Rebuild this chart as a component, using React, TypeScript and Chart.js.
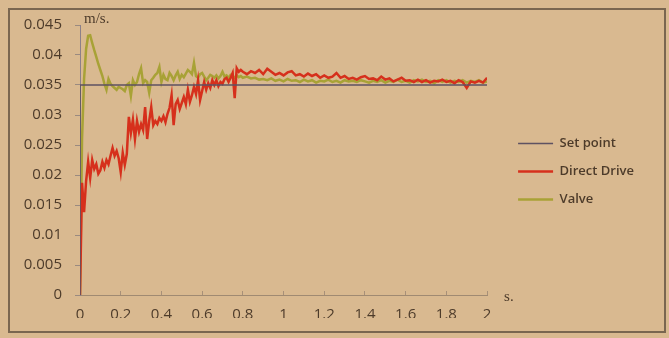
import React, { useEffect, useRef } from "react";
import { Chart, registerables } from "chart.js";

Chart.register(...registerables);

const time: number[] = [
  0, 0.01, 0.02, 0.03, 0.04, 0.05, 0.06, 0.07, 0.08, 0.09,
  0.1, 0.11, 0.12, 0.13, 0.14, 0.15, 0.16, 0.17, 0.18, 0.19,
  0.2, 0.21, 0.22, 0.23, 0.24, 0.25, 0.26, 0.27, 0.28, 0.29,
  0.3, 0.31, 0.32, 0.33, 0.34, 0.35, 0.36, 0.37, 0.38, 0.39,
  0.4, 0.41, 0.42, 0.43, 0.44, 0.45, 0.46, 0.47, 0.48, 0.49,
  0.5, 0.51, 0.52, 0.53, 0.54, 0.55, 0.56, 0.57, 0.58, 0.59,
  0.6, 0.61, 0.62, 0.63, 0.64, 0.65, 0.66, 0.67, 0.68, 0.69,
  0.7, 0.71, 0.72, 0.73, 0.74, 0.75, 0.76, 0.77, 0.78, 0.79, 0.8,
  0.82, 0.84, 0.86, 0.88, 0.9, 0.92, 0.94, 0.96, 0.98, 1.0,
  1.02, 1.04, 1.06, 1.08, 1.1, 1.12, 1.14, 1.16, 1.18, 1.2,
  1.22, 1.24, 1.26, 1.28, 1.3, 1.32, 1.34, 1.36, 1.38, 1.4,
  1.42, 1.44, 1.46, 1.48, 1.5, 1.52, 1.54, 1.56, 1.58, 1.6,
  1.62, 1.64, 1.66, 1.68, 1.7, 1.72, 1.74, 1.76, 1.78, 1.8,
  1.82, 1.84, 1.86, 1.88, 1.9, 1.92, 1.94, 1.96, 1.98, 2.0,
];

const directDrive: number[] = [
  0, 0.0187, 0.0138, 0.019, 0.0222, 0.0195, 0.0225, 0.021, 0.0218, 0.0202,
  0.0208, 0.0222, 0.0212, 0.0225, 0.0218, 0.0232, 0.0245, 0.0232, 0.024, 0.0228,
  0.0205, 0.0237, 0.0217, 0.0235, 0.0297, 0.027, 0.0292, 0.026, 0.029, 0.0272,
  0.0285, 0.0275, 0.0313, 0.026, 0.029, 0.0313, 0.0283, 0.029, 0.0285, 0.0295,
  0.029, 0.0298, 0.0288, 0.0302, 0.0312, 0.0333, 0.0283, 0.0318, 0.0325, 0.031,
  0.032, 0.033, 0.0318, 0.0342, 0.0322, 0.0333, 0.0347, 0.0335, 0.0358, 0.0325,
  0.034, 0.0355, 0.0342, 0.0353, 0.0345, 0.0358, 0.035, 0.0358, 0.0348, 0.0355,
  0.0352, 0.036, 0.0362, 0.0355, 0.0362, 0.037, 0.0328, 0.0378, 0.0372, 0.0375, 0.0372,
  0.0368, 0.0373, 0.037, 0.0375, 0.0368, 0.0377, 0.0372, 0.0367, 0.037, 0.0366,
  0.0371, 0.0373, 0.0366, 0.0368, 0.0364, 0.0369, 0.0365, 0.0368, 0.0362, 0.0366,
  0.0362, 0.0364, 0.037, 0.0362, 0.0365, 0.036, 0.0362, 0.0359, 0.0363, 0.0365,
  0.036, 0.0361, 0.0358, 0.0364, 0.0359, 0.0361, 0.0356, 0.0359, 0.0362, 0.0357,
  0.0358, 0.0355, 0.0359, 0.0355, 0.0358, 0.0354, 0.0357, 0.0356, 0.0359, 0.0355,
  0.0357, 0.0353, 0.0358, 0.0355, 0.0345, 0.0356, 0.0354, 0.0357, 0.0354, 0.0362,
];

const valve: number[] = [
  0, 0.026, 0.036, 0.041, 0.0432, 0.0433, 0.042, 0.0408, 0.0397, 0.0385,
  0.0375, 0.0365, 0.0352, 0.0342, 0.036, 0.0352, 0.0348, 0.0345, 0.0342, 0.0347,
  0.0345, 0.0343, 0.034, 0.035, 0.0353, 0.0332, 0.0358, 0.035, 0.0355, 0.0368,
  0.0378, 0.0353, 0.0358, 0.0355, 0.0337, 0.0358, 0.0362, 0.0367, 0.037, 0.038,
  0.0355, 0.0367, 0.036, 0.0358, 0.037, 0.0365, 0.0358, 0.0366, 0.0372, 0.036,
  0.0367, 0.0363, 0.0369, 0.0375, 0.0372, 0.0368, 0.0387, 0.0365, 0.0362, 0.0368,
  0.037, 0.0364, 0.0358, 0.0362, 0.0367, 0.0365, 0.0362, 0.0366, 0.0361, 0.0365,
  0.0372, 0.0364, 0.0366, 0.0362, 0.0367, 0.0365, 0.0362, 0.0366, 0.0363, 0.0365, 0.0362,
  0.0364, 0.0361, 0.0362, 0.0359, 0.036, 0.0358, 0.0361, 0.0357, 0.0359, 0.0356,
  0.036, 0.0357, 0.0358, 0.0355, 0.0359, 0.0356, 0.0358, 0.0354, 0.0357, 0.0356,
  0.0359, 0.0355, 0.0357, 0.0354, 0.0358, 0.0356, 0.0357, 0.0355, 0.0358, 0.0356,
  0.0354, 0.0357, 0.0355, 0.0358, 0.0354, 0.0357, 0.0355, 0.0359, 0.0355, 0.0357,
  0.0354, 0.0358, 0.0356, 0.0359, 0.0355, 0.0357, 0.0353, 0.0358, 0.0355, 0.0358,
  0.0354, 0.0357, 0.0355, 0.0358, 0.0354, 0.0357, 0.0355, 0.0358, 0.0354, 0.0356,
];

const setPointTime: number[] = [0, 0, 2];
const setPoint: number[] = [0, 0.035, 0.035];

const seriesNames: string[] = ["Set point", "Direct Drive", "Valve"];
const xTickLabels: string[] = ["0", "0.2", "0.4", "0.6", "0.8", "1", "1.2", "1.4", "1.6", "1.8", "2"];
const yTickLabels: string[] = ["0", "0.005", "0.01", "0.015", "0.02", "0.025", "0.03", "0.035", "0.04", "0.045"];
const yUnit = "m/s.";
const xUnit = "s.";

const BG = "#d9b990";
const TEXT = "#4d3b2a";

const pairs = (xs: number[], ys: number[]) => ys.map((y, i) => ({ x: xs[i], y }));

export default function App() {
  const ref = useRef<HTMLCanvasElement | null>(null);

  useEffect(() => {
    if (!ref.current) return;
    const decor = {
      id: "decor",
      beforeDraw(chart: any) {
        const ctx = chart.ctx;
        ctx.save();
        ctx.fillStyle = BG;
        ctx.fillRect(0, 0, chart.width, chart.height);
        ctx.restore();
      },
      afterDraw(chart: any) {
        const ctx = chart.ctx;
        const { left, top, right, bottom } = chart.chartArea;
        ctx.save();
        ctx.strokeStyle = "#7a6650";
        ctx.lineWidth = 2;
        ctx.strokeRect(9, 9, 656, 323);
        ctx.fillStyle = TEXT;
        ctx.font = "15px 'Liberation Serif', serif";
        ctx.textBaseline = "middle";
        ctx.textAlign = "left";
        ctx.fillText(yUnit, left + 4, top - 6);
        ctx.fillText(xUnit, right + 17, bottom + 2);
        ctx.restore();
      },
    };

    const chart = new Chart(ref.current, {
      type: "line",
      data: {
        datasets: [
          {
            label: seriesNames[0],
            data: pairs(setPointTime, setPoint),
            borderColor: "#5e5262",
            backgroundColor: "#5e5262",
            borderWidth: 1.6,
            pointRadius: 0,
            tension: 0,
          },
          {
            label: seriesNames[1],
            data: pairs(time, directDrive),
            borderColor: "#d6301c",
            backgroundColor: "#d6301c",
            borderWidth: 2.5,
            pointRadius: 0,
            tension: 0,
          },
          {
            label: seriesNames[2],
            data: pairs(time, valve),
            borderColor: "#a8a236",
            backgroundColor: "#a8a236",
            borderWidth: 2.5,
            pointRadius: 0,
            tension: 0,
          },
        ],
      },
      options: {
        animation: false,
        responsive: false,
        layout: { padding: { left: 0, top: 25, right: 25, bottom: 20 } },
        plugins: {
          tooltip: { enabled: false },
          legend: {
            position: "right",
            align: "center",
            maxWidth: 220,
            labels: {
              usePointStyle: true,
              pointStyle: "line",
              pointStyleWidth: 35,
              padding: 15,
              color: TEXT,
              font: { family: "'Open Sans', sans-serif", size: 13, weight: "600" },
            },
          },
        },
        scales: {
          x: {
            type: "linear",
            min: 0,
            max: 2,
            afterFit(s: any) {
              s.height = 23;
            },
            ticks: {
              stepSize: 0.2,
              color: TEXT,
              padding: 15,
              maxRotation: 0,
              font: { family: "'Open Sans', sans-serif", size: 15 },
              callback: (_v: any, i: number) => xTickLabels[i],
            },
            grid: { drawOnChartArea: false, tickLength: -4, color: "#a89078" },
            border: { color: "#a08a72", width: 1 },
          },
          y: {
            type: "linear",
            min: 0,
            max: 0.045,
            afterFit(s: any) {
              s.width = 80;
            },
            ticks: {
              stepSize: 0.005,
              color: TEXT,
              padding: 13,
              font: { family: "'Open Sans', sans-serif", size: 15 },
              callback: (_v: any, i: number) => yTickLabels[i],
            },
            grid: { drawOnChartArea: false, tickLength: 5, color: "#9a8a80" },
            border: { color: "#8c8088", width: 1 },
          },
          gap: {
            type: "linear",
            position: "right",
            display: true,
            afterFit(s: any) {
              s.width = 16;
            },
            ticks: { display: false },
            grid: { display: false, drawTicks: false },
            border: { display: false },
          },
        },
      },
      plugins: [decor],
    } as any);
    return () => chart.destroy();
  }, []);

  return (
    <div style={{ position: "fixed", left: 0, top: 0, width: 669, height: 338 }}>
      <canvas ref={ref} width={669} height={338} style={{ display: "block" }} />
    </div>
  );
}
